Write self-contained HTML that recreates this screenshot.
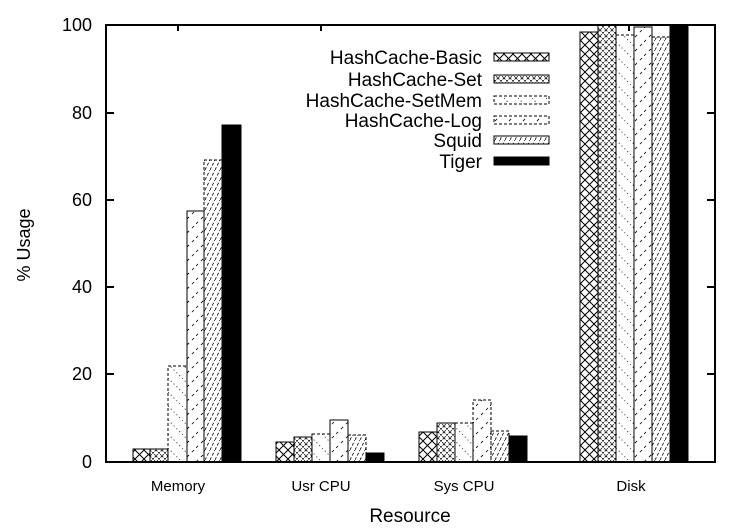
<!DOCTYPE html>
<html><head><style>body{margin:0;background:#fff}</style></head><body>
<svg width="750" height="525" xmlns="http://www.w3.org/2000/svg" font-family="Liberation Sans, sans-serif">
<defs>
<pattern id="p1" width="9" height="9" patternUnits="userSpaceOnUse"><path d="M0 0L9 9M9 0L0 9" stroke="#000" stroke-width="1" fill="none"/></pattern>
<pattern id="p2" width="6" height="6" patternUnits="userSpaceOnUse"><path d="M0 0L6 6M6 0L0 6" stroke="#000" stroke-width="0.8" stroke-dasharray="2 1" fill="none"/></pattern>
<pattern id="p3" width="14" height="14" patternUnits="userSpaceOnUse"><path d="M0 0L14 14" stroke="#000" stroke-width="0.8" stroke-dasharray="1 3" fill="none"/></pattern>
<pattern id="p4" width="14" height="14" patternUnits="userSpaceOnUse"><path d="M0 14L14 0" stroke="#000" stroke-width="0.8" stroke-dasharray="3 4" fill="none"/></pattern>
<pattern id="p5" width="5" height="10" patternUnits="userSpaceOnUse"><path d="M0 10L5 0" stroke="#000" stroke-width="0.8" stroke-dasharray="3 2" fill="none"/></pattern>
</defs>
<g stroke="#000" stroke-width="1">
<rect x="133" y="449" width="17" height="13" fill="url(#p1)"/>
<rect x="150" y="449" width="18" height="13" fill="url(#p2)"/>
<rect x="168" y="366" width="19" height="96" fill="url(#p3)" stroke-dasharray="3 2"/>
<rect x="187" y="211" width="17" height="251" fill="url(#p4)"/>
<rect x="204" y="160" width="18" height="302" fill="url(#p5)" stroke-dasharray="3 2"/>
<rect x="222" y="125" width="19" height="337" fill="#000"/>
<rect x="276" y="442" width="18" height="20" fill="url(#p1)"/>
<rect x="294" y="437" width="18" height="25" fill="url(#p2)"/>
<rect x="312" y="434" width="18" height="28" fill="url(#p3)" stroke-dasharray="3 2"/>
<rect x="330" y="420" width="18" height="42" fill="url(#p4)"/>
<rect x="348" y="435" width="18" height="27" fill="url(#p5)" stroke-dasharray="3 2"/>
<rect x="366" y="453" width="18" height="9" fill="#000"/>
<rect x="419" y="432" width="18" height="30" fill="url(#p1)"/>
<rect x="437" y="423" width="18" height="39" fill="url(#p2)"/>
<rect x="455" y="423" width="18" height="39" fill="url(#p3)" stroke-dasharray="3 2"/>
<rect x="473" y="400" width="18" height="62" fill="url(#p4)" stroke-dasharray="3 2"/>
<rect x="491" y="431" width="18" height="31" fill="url(#p5)" stroke-dasharray="3 2"/>
<rect x="509" y="436" width="18" height="26" fill="#000"/>
<rect x="580" y="32" width="18" height="430" fill="url(#p1)"/>
<rect x="598" y="25" width="18" height="437" fill="url(#p2)"/>
<rect x="616" y="35" width="18" height="427" fill="url(#p3)" stroke-dasharray="3 2"/>
<rect x="634" y="27" width="18" height="435" fill="url(#p4)"/>
<rect x="652" y="37" width="18" height="425" fill="url(#p5)" stroke-dasharray="3 2"/>
<rect x="670" y="25" width="18" height="437" fill="#000"/>
<rect x="494" y="53" width="55" height="8" fill="url(#p1)"/>
<rect x="494" y="75" width="55" height="8" fill="url(#p2)"/>
<rect x="494" y="96" width="55" height="8" fill="url(#p3)" stroke-dasharray="3 2"/>
<rect x="494" y="116" width="55" height="8" fill="url(#p4)" stroke-dasharray="3 2"/>
<rect x="494" y="136" width="55" height="8" fill="url(#p5)"/>
<rect x="494" y="157" width="55" height="8" fill="#000"/>
</g>
<g stroke="#000" stroke-width="2" fill="none">
<rect x="106" y="25" width="609" height="437"/>
<path d="M106 113h8M106 200h8M106 287h8M106 374h8M715 113h-8M715 200h-8M715 287h-8M715 374h-8M178 25v6M321 25v6M629 25v6"/>
</g>
<g font-size="18" text-anchor="end">
<text x="92" y="31">100</text><text x="92" y="119">80</text><text x="92" y="206">60</text>
<text x="92" y="293">40</text><text x="92" y="380">20</text><text x="92" y="468">0</text>
</g>
<g font-size="15" text-anchor="middle">
<text x="178" y="491">Memory</text><text x="321" y="491">Usr CPU</text><text x="464" y="491">Sys CPU</text><text x="631" y="491">Disk</text>
</g>
<text x="410" y="522" font-size="19" text-anchor="middle">Resource</text>
<text transform="translate(30,245) rotate(-90)" font-size="18" text-anchor="middle">% Usage</text>
<g font-size="19" text-anchor="end">
<text x="482" y="64">HashCache-Basic</text><text x="482" y="86">HashCache-Set</text>
<text x="482" y="107">HashCache-SetMem</text><text x="482" y="127">HashCache-Log</text>
<text x="482" y="147">Squid</text><text x="482" y="168">Tiger</text>
</g>
</svg>
</body></html>
